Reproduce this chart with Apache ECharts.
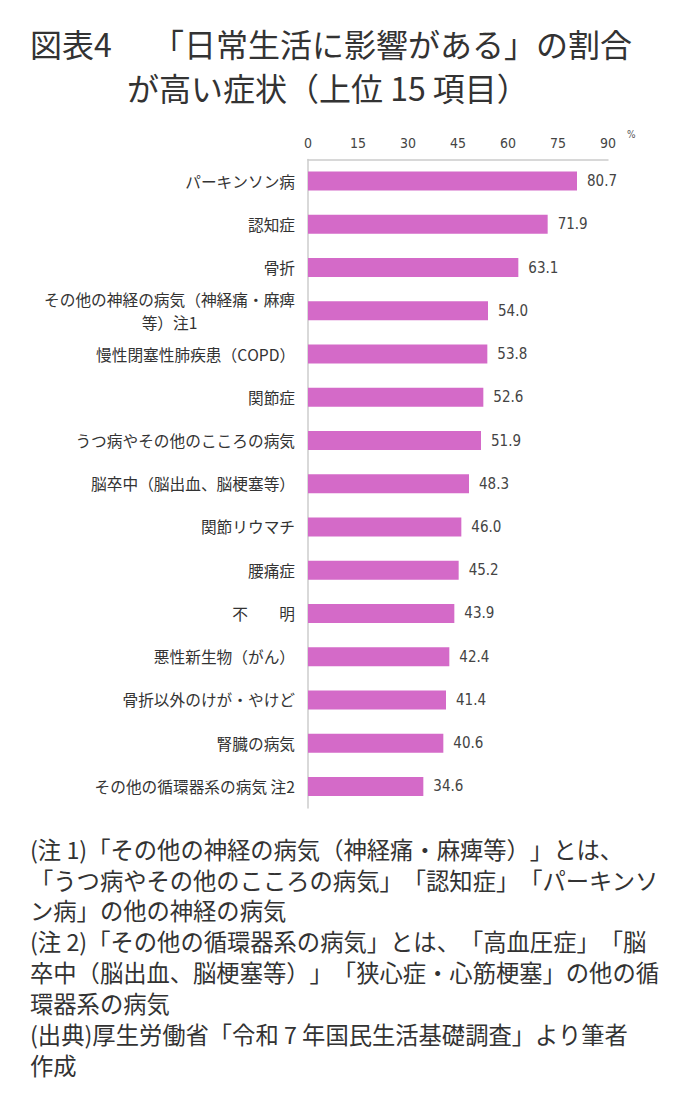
<!DOCTYPE html>
<html><head><meta charset="utf-8">
<script src="https://cdn.jsdelivr.net/npm/echarts@6/dist/echarts.min.js"></script>
<style>html,body{margin:0;padding:0;background:#fff}#c{width:680px;height:1117px;text-spacing-trim:space-all;font-kerning:none}#c text{text-spacing-trim:space-all}</style>
</head><body><div id="c"></div>
<script>
const categories = [
  'パーキンソン病','認知症','骨折','その他の神経の病気（神経痛・麻痺\n等）注1','慢性閉塞性肺疾患（COPD）',
  '関節症','うつ病やその他のこころの病気','脳卒中（脳出血、脳梗塞等）','関節リウマチ','腰痛症',
  '不　　明','悪性新生物（がん）','骨折以外のけが・やけど','腎臓の病気','その他の循環器系の病気 注2'
];
const values = [80.7,71.9,63.1,54.0,53.8,52.6,51.9,48.3,46.0,45.2,43.9,42.4,41.4,40.6,34.6];
const tickValues = [0,15,30,45,60,75,90];
const titleHead = '図表4';
const titleLines = ['「日常生活に影響がある」の割合','が高い症状（上位 15 項目）'];
const noteLines = [
  '(注 1)「その他の神経の病気（神経痛・麻痺等）」とは、',
  '「うつ病やその他のこころの病気」「認知症」「パーキンソ',
  'ン病」の他の神経の病気',
  '(注 2)「その他の循環器系の病気」とは、「高血圧症」「脳',
  '卒中（脳出血、脳梗塞等）」「狭心症・心筋梗塞」の他の循',
  '環器系の病気',
  '(出典)厚生労働省「令和 7 年国民生活基礎調査」より筆者',
  '作成'
];

const JP = '"Noto Sans CJK JP", sans-serif';
const NUM = '"DejaVu Sans Condensed", "Liberation Sans Narrow", sans-serif';
const chart = echarts.init(document.getElementById('c'), null, {renderer:'svg'});
const graphics = [];
graphics.push({type:'text', left:30, top:27, style:{text:titleHead, font:'32px '+JP, fill:'#333'}});
graphics.push({type:'text', left:152, top:27, style:{text:titleLines[0], font:'32px '+JP, fill:'#333'}});
graphics.push({type:'text', left:127, top:71, style:{text:titleLines[1], font:'32px '+JP, fill:'#333'}});
graphics.push({type:'text', left:627, top:129, style:{text:'%', font:'10px '+NUM, fill:'#555'}});
noteLines.forEach((t,i)=>{
  graphics.push({type:'text', left:30, top:837 + i*30.9, style:{text:t, font:'23.3px '+JP, fill:'#333'}});
});
chart.setOption({
  animation:false,
  backgroundColor:'#fff',
  grid:{left:308, top:159.5, width:300, height:648.5, containLabel:false},
  xAxis:{type:'value', position:'top', min:0, max:90, interval:15,
    axisLine:{show:true, lineStyle:{color:'#ccc', width:1.5}},
    axisTick:{show:false}, splitLine:{show:false},
    axisLabel:{margin:10, color:'#444', fontSize:14, fontFamily:NUM,
      customValues: tickValues}
  },
  yAxis:{type:'category', inverse:true, data:categories,
    axisLine:{show:true, lineStyle:{color:'#ccc', width:1.5}},
    axisTick:{show:false},
    axisLabel:{margin:13, color:'#333', fontSize:15.7, fontFamily:JP, lineHeight:23,
      formatter: v => v.split('\n').map(s=>'{c|'+s+'}').join('\n'),
      rich:{c:{align:'center', fontSize:15.7, fontFamily:JP, color:'#333', lineHeight:23}}
    }
  },
  series:[{type:'bar', data:values, barWidth:19,
    itemStyle:{color:'#d46ac8'},
    label:{show:true, position:'right', distance:10, color:'#444', fontSize:15, fontFamily:NUM,
      formatter: p => p.value.toFixed(1)}
  }],
  graphic: graphics
});
</script></body></html>
